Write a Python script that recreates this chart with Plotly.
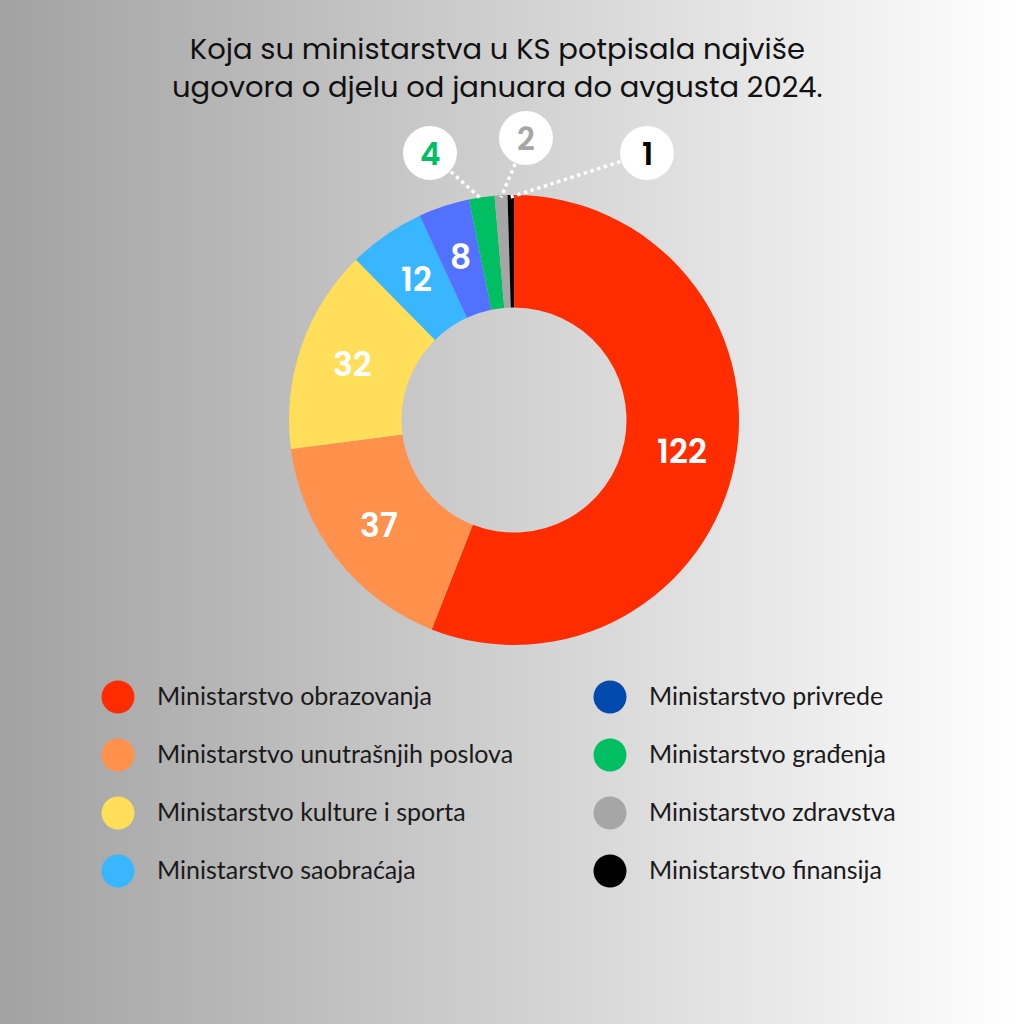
import math
import plotly.graph_objects as go

# ---- data ----
ministries = [
    "Ministarstvo obrazovanja",
    "Ministarstvo unutrašnjih poslova",
    "Ministarstvo kulture i sporta",
    "Ministarstvo saobraćaja",
    "Ministarstvo privrede",
    "Ministarstvo građenja",
    "Ministarstvo zdravstva",
    "Ministarstvo finansija",
]
contracts = [122, 37, 32, 12, 8, 4, 2, 1]
slice_colors = ["#ff2c00", "#ff914d", "#ffde59", "#38b6ff", "#5271ff", "#00bf63", "#a6a6a6", "#000000"]
legend_colors = ["#ff2c00", "#ff914d", "#ffde59", "#38b6ff", "#004aad", "#00bf63", "#a6a6a6", "#000000"]
callout_text_colors = ["#00bf63", "#a6a6a6", "#000000"]  # for the three smallest slices
title_text = "Koja su ministarstva u KS potpisala najviše<br>ugovora o djelu od januara do avgusta 2024."

W = H = 1024
# pie geometry (pixels)
cx, cy, R = 514, 420, 225
hole = 0.5

fig = go.Figure()

# background gradient
shapes = []
n = 256
for i in range(n):
    t = i / (n - 1)
    v = int(round(162 + (255 - 162) * t))
    col = f"rgb({v},{v},{v})"
    shapes.append(dict(type="rect", xref="paper", yref="paper",
                       x0=i / n, x1=(i + 1) / n + 0.002, y0=0, y1=1,
                       fillcolor=col, line=dict(width=0), layer="below"))

fig.add_trace(go.Pie(
    labels=ministries, values=contracts, sort=False, direction="clockwise", rotation=0,
    hole=hole, marker=dict(colors=slice_colors, line=dict(width=0)),
    textinfo="none", hoverinfo="label+value", showlegend=False,
    domain=dict(x=[(cx - R) / W, (cx + R) / W], y=[1 - (cy + R) / H, 1 - (cy - R) / H]),
))

# legend as scatter markers + labels
lx, ly = [], []
for i in range(len(ministries)):
    col, row = divmod(i, 4)
    lx.append(118 + col * 492)
    ly.append(697 + row * 58)
fig.add_trace(go.Scatter(
    x=lx, y=ly, mode="markers",
    marker=dict(size=33, color=legend_colors, line=dict(width=0)),
    showlegend=False, hoverinfo="skip", cliponaxis=False,
))
fig.add_trace(go.Scatter(
    x=[v + 39 for v in lx], y=[v + 2 for v in ly], mode="text", text=ministries,
    textposition="middle right",
    textfont=dict(family="Lato", size=25, color="#1a1a1a"),
    showlegend=False, hoverinfo="skip", cliponaxis=False,
))

# slice mid-angles from data
total = sum(contracts)
cum = 0
mids = []
for v in contracts:
    mids.append((cum + v / 2) / total * 2 * math.pi)
    cum += v

annotations = []
# inside labels for the five largest slices
r_mid = R * (1 + hole) / 2 + 2
for idx in range(5):
    a = mids[idx]
    annotations.append(dict(x=cx + r_mid * math.sin(a), y=cy - r_mid * math.cos(a),
                            xref="x", yref="y", text=str(contracts[idx]), showarrow=False,
                            font=dict(family="Poppins", size=33, weight=600, color="white")))

# callouts for the three smallest slices
circle_pos = [(430, 153), (526, 138), (647, 153)]
cr = 27
small = list(range(len(contracts) - 3, len(contracts)))
for k, idx in enumerate(small):
    a = mids[idx]
    ex = cx + R * math.sin(a)
    ey = cy - R * math.cos(a) + 2
    px, py = circle_pos[k]
    shapes.append(dict(type="line", xref="x", yref="y", x0=px, y0=py, x1=ex, y1=ey,
                       line=dict(color="white", width=3.5, dash="dot"), layer="above"))
for k, idx in enumerate(small):
    px, py = circle_pos[k]
    shapes.append(dict(type="circle", xref="x", yref="y", x0=px - cr, x1=px + cr,
                       y0=py - cr, y1=py + cr, fillcolor="white", line=dict(width=0), layer="above"))
    annotations.append(dict(x=px, y=py + 1, xref="x", yref="y", text=str(contracts[idx]),
                            showarrow=False, font=dict(family="Poppins", size=31, weight=600,
                                                       color=callout_text_colors[k])))

annotations.append(dict(x=497, y=68, xref="x", yref="y", text=title_text, showarrow=False,
                        align="center", font=dict(family="Poppins", size=29, color="#111111")))

fig.update_layout(
    width=W, height=H, margin=dict(l=0, r=0, t=0, b=0),
    paper_bgcolor="white", plot_bgcolor="rgba(0,0,0,0)",
    xaxis=dict(range=[0, W], visible=False, domain=[0, 1], fixedrange=True),
    yaxis=dict(range=[H, 0], visible=False, domain=[0, 1], fixedrange=True),
    shapes=shapes, annotations=annotations,
)

fig.write_html("out.html", config={"displayModeBar": False},
               post_script="document.body.style.margin='0';document.body.style.overflow='hidden';")
